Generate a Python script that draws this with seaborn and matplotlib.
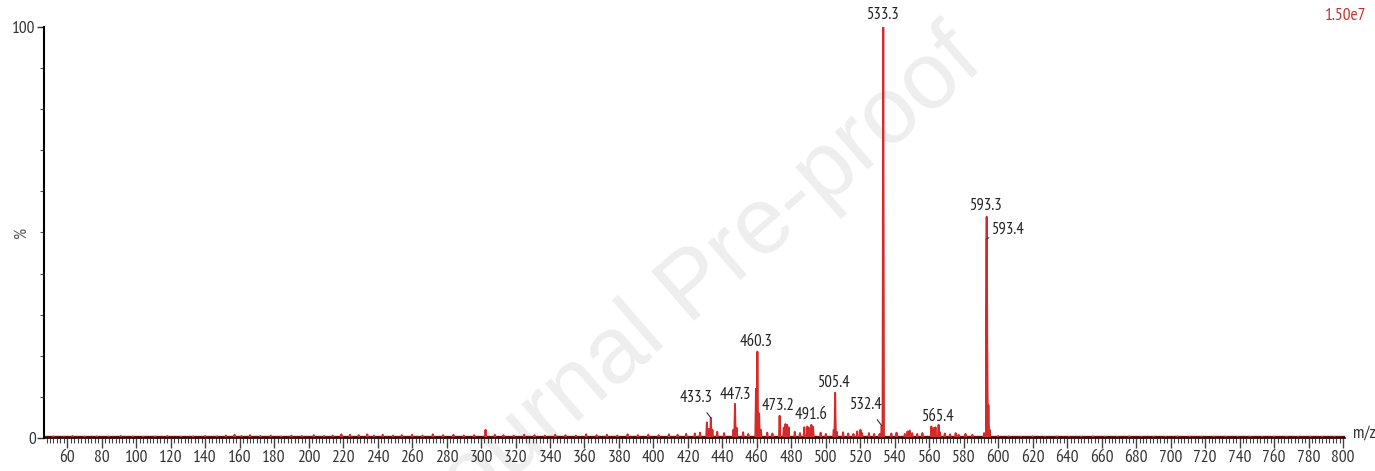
# Mass spectrum (ESI+) re-drawn as a stick/profile plot
import matplotlib
matplotlib.use("Agg")
import matplotlib.pyplot as plt
from matplotlib import font_manager as fm
from matplotlib.ticker import MultipleLocator, FuncFormatter
import pandas as pd
import seaborn as sns

# Labelled peaks (m/z, relative intensity %)
label_mz = [433.3, 447.3, 460.3, 473.2, 491.6, 505.4, 532.4, 533.3, 565.4, 593.3, 593.4]
label_int = [4.9, 8.3, 21.0, 5.4, 3.2, 11.0, 3.0, 100.0, 3.2, 53.8, 48.5]
# where each label text sits (m/z, %)
label_x = [424.5, 447.3, 459.8, 472.3, 491.2, 504.7, 523.5, 533.3, 565.0, 593.3, 596.5]
label_y = [9.7, 10.5, 23.4, 7.8, 5.6, 13.4, 8.0, 103.0, 5.1, 56.4, 50.6]

# Other visible peaks in the cluster region
minor_mz = [431.0, 432.2, 434.2, 446.4, 448.2, 459.5, 461.3, 462.3, 475.6, 476.6, 477.5,
            478.4, 487.5, 489.3, 490.4, 492.6, 504.6, 506.4, 516.0, 518.2, 520.1, 521.0,
            531.2, 545.8, 547.4, 548.6, 550.1, 561.2, 562.5, 563.6, 566.2, 575.3,
            577.0, 591.8, 594.3, 595.0]
minor_int = [3.8, 2.2, 2.0, 2.0, 2.5, 12.0, 6.0, 2.0, 2.5, 3.4, 3.2,
             2.6, 2.6, 2.8, 2.4, 2.7, 2.0, 1.5, 1.0, 1.6, 2.0, 1.2,
             1.0, 1.0, 1.6, 1.8, 1.2, 2.8, 2.4, 2.6, 1.4, 1.2,
             0.8, 1.2, 8.0, 2.0]

# Low-level background signal across the scan
noise_mz = [52, 58, 63, 70, 77, 84, 91, 98, 104, 111, 118, 126, 133, 140, 147, 152, 157,
            161, 166, 172, 178, 184, 190, 196, 203, 209, 214, 219, 224, 229, 234, 238,
            243, 249, 254, 260, 266, 272, 278, 284, 290, 296, 302.6, 308, 313, 319, 325,
            331, 337, 343, 349, 355, 361, 367, 373, 379, 385, 391, 397, 403, 409, 414,
            419, 424, 427, 437, 441, 452, 455, 466, 469, 482, 485, 497, 500, 510, 513,
            525, 528, 538, 541, 553, 556, 569, 572, 581, 585, 600, 606, 613, 620, 627,
            634, 641, 648, 655, 662, 669, 676, 683, 690, 697, 704, 711, 718, 725, 732,
            739, 746, 753, 760, 767, 774, 781, 788, 795]
noise_int = [0.4, 0.3, 0.5, 0.3, 0.4, 0.3, 0.5, 0.4, 0.3, 0.4, 0.5, 0.3, 0.4, 0.5, 0.4, 0.6, 0.8,
             0.5, 0.7, 0.5, 0.6, 0.4, 0.6, 0.5, 0.7, 0.5, 0.6, 0.9, 0.8, 0.7, 0.9, 0.6,
             0.8, 0.6, 0.7, 0.8, 0.6, 0.9, 0.7, 0.8, 0.6, 0.7, 2.0, 0.8, 0.7, 0.6, 0.8,
             0.7, 0.6, 0.8, 0.7, 0.6, 0.9, 0.7, 0.8, 0.6, 0.9, 0.7, 0.8, 0.7, 0.9, 0.8,
             1.0, 1.1, 1.3, 1.5, 1.2, 1.4, 1.0, 1.3, 1.1, 1.5, 1.2, 1.3, 1.0, 1.4, 1.1,
             1.2, 1.0, 1.1, 1.3, 1.0, 1.2, 1.1, 0.9, 1.0, 0.8, 0.5, 0.4, 0.3, 0.4, 0.3,
             0.4, 0.3, 0.3, 0.4, 0.3, 0.3, 0.4, 0.3, 0.3, 0.3, 0.4, 0.3, 0.3, 0.3, 0.3,
             0.3, 0.3, 0.3, 0.3, 0.3, 0.3, 0.3, 0.3, 0.3]

peaks = pd.DataFrame({
    "mz": label_mz + minor_mz + noise_mz,
    "intensity": label_int + minor_int + noise_int,
}).sort_values("mz")

# narrow triangular profile for each peak
half_w = 0.4
prof_x, prof_y = [46.5], [0.0]
for mz, h in zip(peaks["mz"], peaks["intensity"]):
    prof_x += [mz - half_w, mz, mz + half_w]
    prof_y += [0.0, h, 0.0]
prof_x.append(801.0)
prof_y.append(0.0)
profile = pd.DataFrame({"mz": prof_x, "intensity": prof_y})

sns.set_style("white")

# pick an Arial-Narrow-like face if one is installed
installed = {f.name for f in fm.fontManager.ttflist}
narrow = None
for name in ["Liberation Sans Narrow", "Arial Narrow", "PT Sans Narrow", "Archivo Narrow",
             "Roboto Condensed", "Open Sans Condensed"]:
    if name in installed:
        narrow = name
        break
if narrow is None:
    narrow = "Liberation Sans"
plt.rcParams["font.family"] = [narrow, "DejaVu Sans"]
fs = 12.5
fs_lab = 12

fig = plt.figure(figsize=(13.75, 4.71), dpi=100)
ax = fig.add_axes([0.032, 0.070, 0.946, 0.873])

# watermark behind everything (zorder below the axes)
fig.text(0.505, 0.389, "Journal Pre-proof", fontsize=68, color="#eeeeee",
         rotation=41, ha="center", va="center", zorder=-1,
         family=["Liberation Sans", "DejaVu Sans"])
ax.patch.set_alpha(0)

sns.lineplot(data=profile, x="mz", y="intensity", sort=False, estimator=None,
             color="#d42a2a", linewidth=1.4, ax=ax)
ax.fill_between(profile["mz"], 0, profile["intensity"], color="#e87070", linewidth=0)
ax.axhline(0.35, color="#6a1010", linewidth=2.4, zorder=1)

ax.set_xlim(46.5, 801)
ax.set_ylim(0, 100)
ax.set_xlabel("")
ax.set_ylabel("")

for side in ["top", "right"]:
    ax.spines[side].set_visible(False)
ax.spines["left"].set_linewidth(1.5)
ax.spines["bottom"].set_linewidth(1.2)
ax.spines["left"].set_color("black")
ax.spines["bottom"].set_color("black")

ax.xaxis.set_major_locator(MultipleLocator(20))
ax.xaxis.set_minor_locator(MultipleLocator(2))
ax.xaxis.set_major_formatter(FuncFormatter(lambda v, p: f"{v:.0f}" if v >= 60 else ""))
ax.yaxis.set_major_locator(MultipleLocator(100))
ax.yaxis.set_minor_locator(MultipleLocator(10))
ax.tick_params(axis="x", which="major", direction="out", length=7, width=1,
               colors="#444444", labelsize=fs, labelcolor="#333333", pad=1.5)
ax.tick_params(axis="x", which="minor", direction="out", length=3.5, width=0.8, colors="#444444")
ax.tick_params(axis="y", which="major", direction="out", length=5, width=1,
               colors="#333333", labelsize=fs, pad=1)
ax.tick_params(axis="y", which="minor", direction="out", length=3, width=0.8, colors="#555555")
ax.tick_params(bottom=True, left=True, which="both")

ax.text(-0.017, 0.5, "%", transform=ax.transAxes, rotation=90, ha="center",
        va="center", fontsize=fs, color="#555555")
ax.text(1.006, 0.01, "m/z", transform=ax.transAxes, ha="left", va="center",
        fontsize=fs, color="#333333")
fig.text(0.994, 0.966, "1.50e7", ha="right", va="center", fontsize=fs, color="#c03030")

leaders = {433.3, 532.4, 593.4}
for mz, h, tx, ty in zip(label_mz, label_int, label_x, label_y):
    if mz in leaders:
        ha = "left" if tx > mz else "center"
        ax.annotate(f"{mz:.1f}", xy=(mz, h), xytext=(tx, ty),
                    ha=ha, va="center", fontsize=fs_lab, color="#222222",
                    annotation_clip=False,
                    arrowprops=dict(arrowstyle="-", color="#333333", lw=0.8,
                                    shrinkA=3, shrinkB=0))
    else:
        ax.text(tx, ty, f"{mz:.1f}", ha="center", va="center",
                fontsize=fs_lab, color="#222222", clip_on=False)

fig.savefig("out.png", dpi=100)
